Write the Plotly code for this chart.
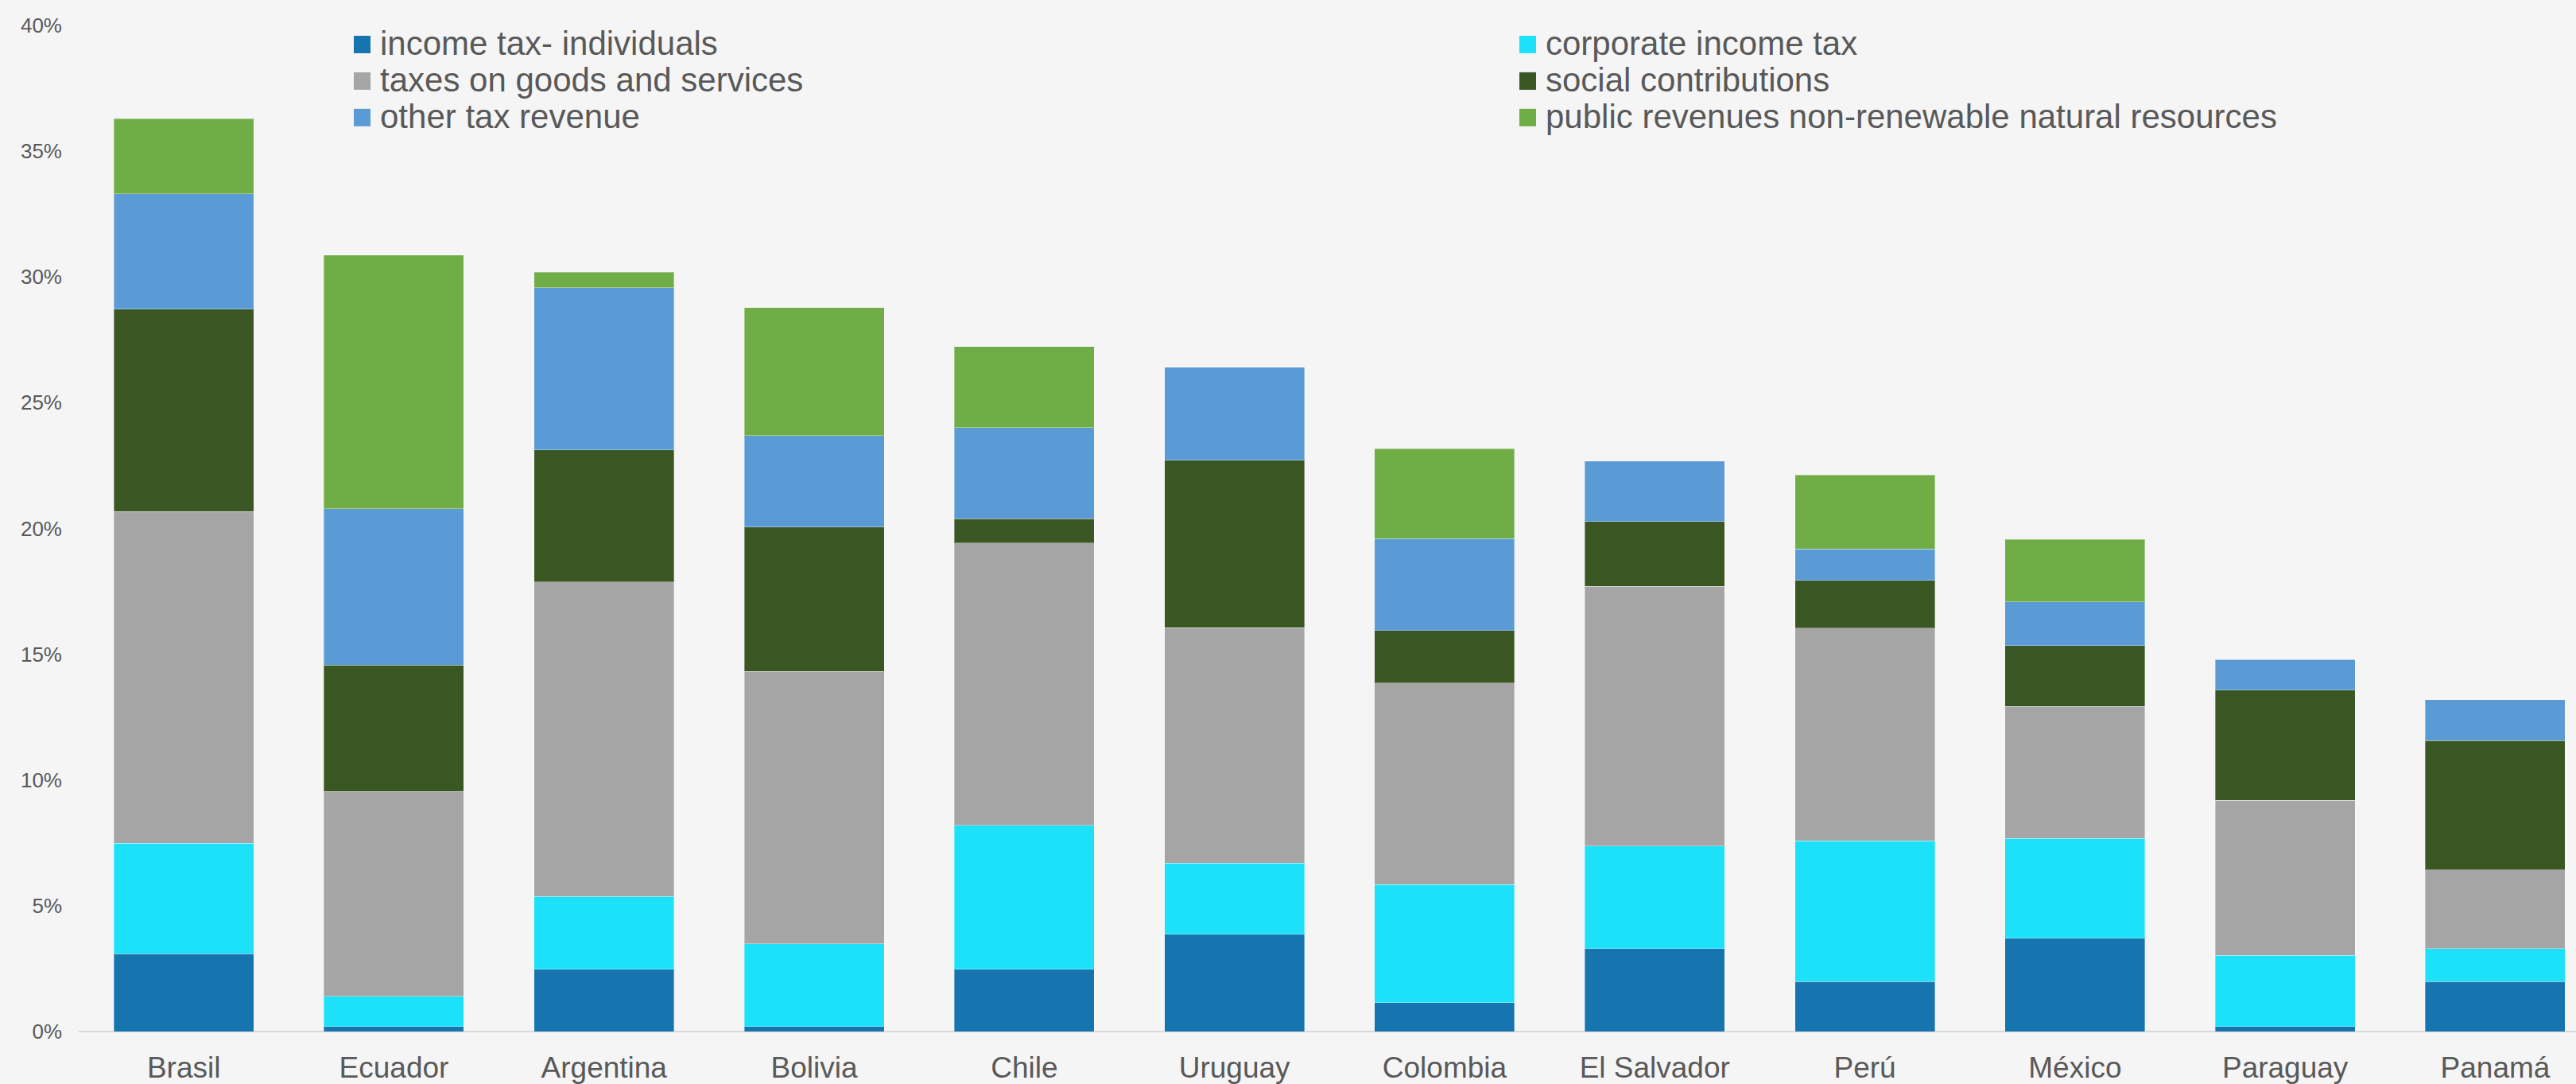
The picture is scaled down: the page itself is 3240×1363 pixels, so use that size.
import plotly.graph_objects as go

# Tax revenue composition by country, % of GDP
countries = ["Brasil", "Ecuador", "Argentina", "Bolivia", "Chile", "Uruguay",
             "Colombia", "El Salvador", "Perú", "México", "Paraguay", "Panamá"]

income_individuals = [3.09, 0.20, 2.48, 0.20, 2.48, 3.87, 1.15, 3.29, 1.99, 3.70, 0.20, 1.99]
corporate_income = [4.39, 1.20, 2.89, 3.28, 5.71, 2.82, 4.69, 4.09, 5.59, 3.98, 2.82, 1.30]
goods_services = [13.19, 8.14, 12.51, 10.84, 11.23, 9.37, 8.01, 10.32, 8.46, 5.24, 6.18, 3.13]
social_contrib = [8.05, 5.03, 5.24, 5.74, 0.96, 6.65, 2.09, 2.58, 1.89, 2.43, 4.38, 5.15]
other_tax = [4.58, 6.22, 6.45, 3.63, 3.63, 3.70, 3.65, 2.40, 1.25, 1.74, 1.21, 1.62]
natural_resources = [2.99, 10.08, 0.62, 5.10, 3.23, 0.0, 3.58, 0.0, 2.94, 2.48, 0.0, 0.0]

series_names = ["income tax- individuals", "corporate income tax",
                "taxes on goods and services", "social contributions",
                "other tax revenue", "public revenues non-renewable natural resources"]
series_values = [income_individuals, corporate_income, goods_services,
                 social_contrib, other_tax, natural_resources]
series_colors = ["#1674AF", "#1CE1F9", "#A5A5A5", "#3A5723", "#5B9BD5", "#70AD47"]

y_ticks = [0, 5, 10, 15, 20, 25, 30, 35, 40]
y_tick_labels = ["0%", "5%", "10%", "15%", "20%", "25%", "30%", "35%", "40%"]

W, H = 3240, 1363
M_L, M_R, M_T, M_B = 99, 0, 32, 64
plot_w = W - M_L - M_R
plot_h = H - M_T - M_B
band = 264.3  # pixels per category

TEXT = "#595959"
FONT = "Liberation Sans, Arial, sans-serif"

fig = go.Figure()
for name, vals, col in zip(series_names, series_values, series_colors):
    fig.add_trace(go.Bar(
        name=name, x=countries, y=vals,
        marker=dict(color=col, line=dict(width=1, color="rgba(255,255,255,0.35)")),
        showlegend=False,
    ))

# Legend drawn as two columns of swatches and labels
def px_to_paper_x(px):
    return (px - M_L) / plot_w

def px_to_paper_y(py):
    return 1 - (py - M_T) / plot_h

col_x = [445, 1911]
row_base = [69, 115, 161]
sw = 21
shapes = []
annotations = []
for i, (name, col) in enumerate(zip(series_names, series_colors)):
    r, c = divmod(i, 2)
    x0 = col_x[c]
    yb = row_base[r]
    shapes.append(dict(
        type="rect", xref="paper", yref="paper",
        x0=px_to_paper_x(x0), x1=px_to_paper_x(x0 + sw),
        y0=px_to_paper_y(yb - 2), y1=px_to_paper_y(yb - 2 - 22),
        fillcolor=col, line=dict(width=0), layer="above",
    ))
    annotations.append(dict(
        text=name, xref="paper", yref="paper",
        x=px_to_paper_x(x0 + sw + 10), y=px_to_paper_y(yb - 14.6),
        xanchor="left", yanchor="middle", showarrow=False,
        font=dict(family=FONT, size=42, color=TEXT),
    ))

fig.update_layout(
    width=W, height=H,
    margin=dict(l=M_L, r=M_R, t=M_T, b=M_B, pad=0),
    barmode="stack",
    bargap=1 - 176 / band,
    paper_bgcolor="#F5F5F5",
    plot_bgcolor="#F5F5F5",
    font=dict(family=FONT, color=TEXT),
    shapes=shapes,
    annotations=annotations,
    showlegend=False,
)
fig.update_xaxes(
    range=[-0.5, -0.5 + plot_w / band],
    showgrid=False, zeroline=False,
    showline=False,
    ticks="", tickfont=dict(size=37, color=TEXT, family=FONT),
    ticklabelstandoff=20,
)
fig.update_yaxes(
    range=[0, 40], tickmode="array", tickvals=y_ticks, ticktext=y_tick_labels,
    showgrid=False, zeroline=True, zerolinecolor="#D9D9D9", zerolinewidth=2,
    showline=False, ticks="",
    tickfont=dict(size=26, color=TEXT, family=FONT),
    ticklabelstandoff=20,
)

fig.write_html("out.html")
